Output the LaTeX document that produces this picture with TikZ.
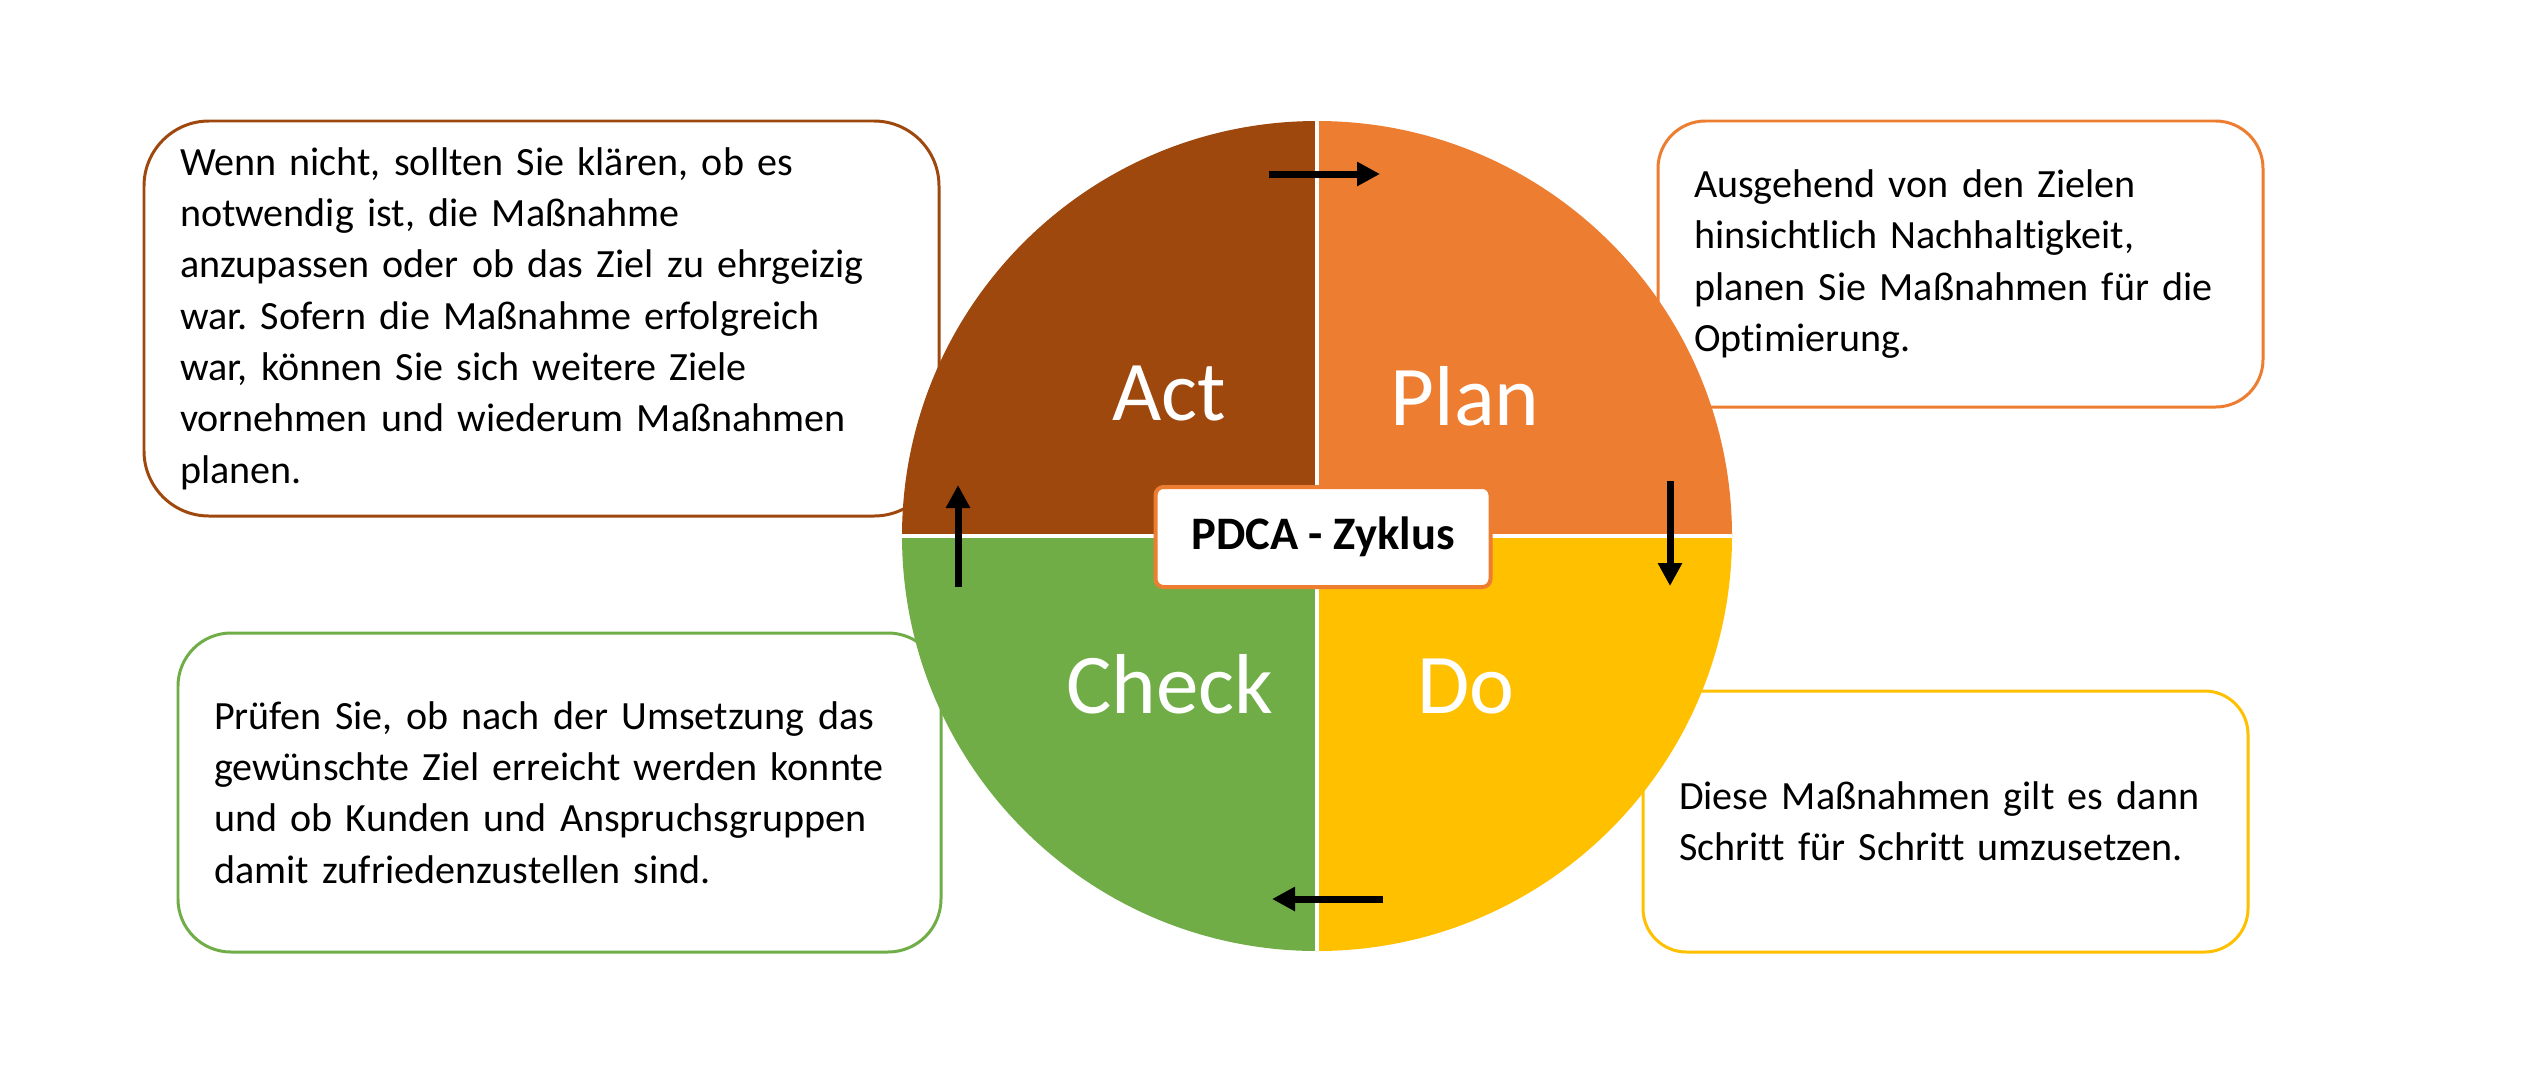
\documentclass[tikz,border=0pt]{standalone}
\usepackage{fontspec}
\setmainfont{Carlito}[Ligatures=NoCommon]
\usepackage{tikz}
\usetikzlibrary{arrows.meta}
\definecolor{pdcabrown}{RGB}{158, 72, 14}
\definecolor{pdcaorange}{RGB}{237, 125, 49}
\definecolor{pdcayellow}{RGB}{255, 192, 0}
\definecolor{pdcagreen}{RGB}{112, 173, 71}
\frenchspacing

\begin{document}
\begin{tikzpicture}[
    txtbox/.style={rectangle, fill=white, line width=1.7pt,
                inner xsep=0.72cm, inner ysep=0pt, align=left,
                font=\fontsize{22.8}{29.2}\selectfont},
    quad/.style={font=\fontsize{48.4}{58}\selectfont, text=white, anchor=base},
    arr/.style={-{Triangle[length=0.46cm, width=0.46cm]}, line width=0.14cm},
  ]

  \fill[white] (0,0) rectangle (50.62,-21.76);
  \useasboundingbox (0,0) rectangle (50.62,-21.76);

  % ── Text boxes ──────────────────────────────────
  \node[txtbox, draw=pdcabrown, rounded corners=1.3cm,
        minimum width=15.9cm, minimum height=7.9cm, text width=14.46cm]
        (actbox) at (10.83,-6.37)
        {Wenn nicht, sollten Sie klären, ob es\\
         notwendig ist, die Maßnahme\\
         anzupassen oder ob das Ziel zu ehrgeizig\\
         war. Sofern die Maßnahme erfolgreich\\
         war, können Sie sich weitere Ziele\\
         vornehmen und wiederum Maßnahmen\\
         planen.};
  \node[txtbox, draw=pdcaorange, rounded corners=0.95cm,
        minimum width=12.1cm, minimum height=5.72cm, text width=10.66cm]
        (planbox) at (39.21,-5.28)
        {Ausgehend von den Zielen\\
         hinsichtlich Nachhaltigkeit,\\
         planen Sie Maßnahmen für die\\
         Optimierung.};
  \node[txtbox, draw=pdcagreen, rounded corners=1.06cm,
        minimum width=15.26cm, minimum height=6.38cm, text width=13.82cm]
        (checkbox) at (11.19,-15.85)
        {Prüfen Sie, ob nach der Umsetzung das\\
         gewünschte Ziel erreicht werden konnte\\
         und ob Kunden und Anspruchsgruppen\\
         damit zufriedenzustellen sind.};
  \node[txtbox, draw=pdcayellow, rounded corners=0.87cm,
        minimum width=12.1cm, minimum height=5.22cm, text width=10.66cm]
        (dobox) at (38.91,-16.43)
        {Diese Maßnahmen gilt es dann\\
         Schritt für Schritt umzusetzen.};

  % ── Circle ──────────────────────────────────────
  \coordinate (c) at (26.34,-10.72);
  \fill[pdcabrown]  (c) -- ++(180:8.3) arc[start angle=180, end angle=90,  radius=8.3] -- cycle;
  \fill[pdcaorange] (c) -- ++(90:8.3)  arc[start angle=90,  end angle=0,   radius=8.3] -- cycle;
  \fill[pdcayellow] (c) -- ++(0:8.3)   arc[start angle=0,   end angle=-90, radius=8.3] -- cycle;
  \fill[pdcagreen]  (c) -- ++(-90:8.3) arc[start angle=-90, end angle=-180,radius=8.3] -- cycle;
  \draw[white, line width=0.08cm] ([xshift=-8.3cm]c) -- ([xshift=8.3cm]c);
  \draw[white, line width=0.08cm] ([yshift=8.3cm]c) -- ([yshift=-8.3cm]c);

  \node[quad] (act)   at (23.38,-8.4)  {Act};
  \node[quad] (plan)  at (29.3,-8.5)   {Plan};
  \node[quad] (check) at (23.4,-14.26) {Check};
  \node[quad] (do)    at (29.32,-14.26) {Do};

  \node[rectangle, rounded corners=0.16cm, draw=pdcaorange, fill=white,
        line width=0.08cm, minimum width=6.7cm, minimum height=2cm,
        font=\bfseries\fontsize{26.5}{30}\selectfont]
        (title) at (26.46,-10.74) {PDCA - Zyklus};

  % ── Arrows ──────────────────────────────────────
  \coordinate (topS)   at (25.38,-3.48);
  \coordinate (topE)   at (27.6,-3.48);
  \coordinate (rightS) at (33.4,-9.62);
  \coordinate (rightE) at (33.4,-11.72);
  \coordinate (botS)   at (27.66,-17.98);
  \coordinate (botE)   at (25.44,-17.98);
  \coordinate (leftS)  at (19.16,-11.74);
  \coordinate (leftE)  at (19.16,-9.7);

  \draw[arr] (topS)   -- (topE);
  \draw[arr] (rightS) -- (rightE);
  \draw[arr] (botS)   -- (botE);
  \draw[arr] (leftS)  -- (leftE);

\end{tikzpicture}
\end{document}
